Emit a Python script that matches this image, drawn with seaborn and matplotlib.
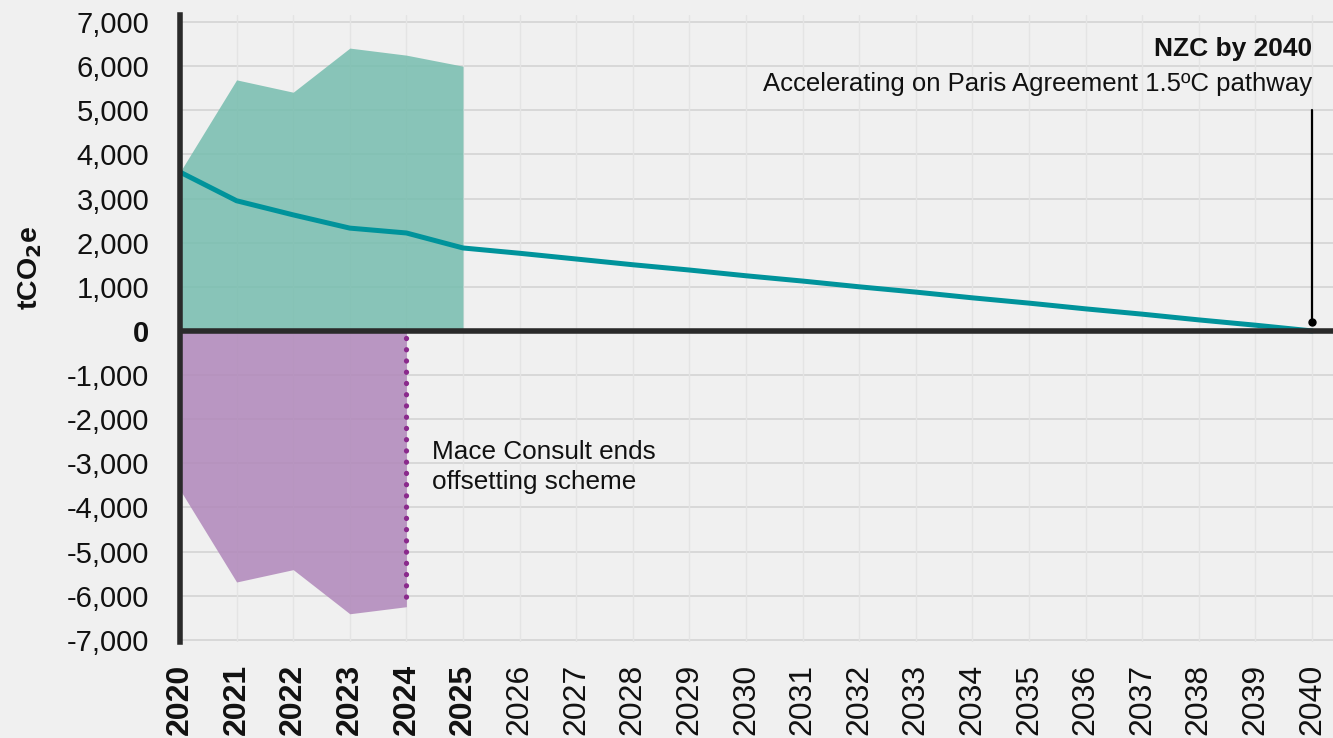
import numpy as np
import pandas as pd
import matplotlib
matplotlib.use("Agg")
import matplotlib.pyplot as plt
import seaborn as sns

years = list(range(2020, 2041))
pathway = [3600, 2950, 2630, 2330, 2220, 1880, 1760, 1630, 1500, 1380, 1250,
           1130, 1000, 880, 750, 630, 500, 380, 250, 130, 0]
emis_years = [2020, 2021, 2022, 2023, 2024, 2025]
emissions_upper = [3600, 5690, 5410, 6410, 6250, 6000]
offset_years = [2020, 2021, 2022, 2023, 2024]
offsets = [-3600, -5690, -5410, -6410, -6250]
offset_end_year = 2024
offset_end_value = -6250
yticks = list(range(-7000, 8000, 1000))
bold_years = [2020, 2021, 2022, 2023, 2024, 2025]

sns.set_theme(style="white")
plt.rcParams['font.family'] = ['Liberation Sans', 'DejaVu Sans']

bg = "#f0f0f0"
fig = plt.figure(figsize=(13.33, 7.38), dpi=100, facecolor=bg)
ax = fig.add_axes([180/1333, 1 - 642/738, 1 - 180/1333, (642-15)/738])
ax.set_facecolor(bg)

ax.set_xlim(2020, 2040.37)
ax.set_ylim(-7050, 7160)

# grid
for yv in yticks:
    ax.axhline(yv, color="#d6d6d6", lw=1.3, zorder=0)
for xv in years:
    ax.axvline(xv, color="#e4e4e4", lw=1.0, zorder=0)

ax.fill_between(emis_years, 0, emissions_upper, color="#76bdae", alpha=0.85, lw=0, zorder=1)
ax.fill_between(offset_years, 0, offsets, color="#b087ba", alpha=0.85, lw=0, zorder=1)

df = pd.DataFrame({"year": years, "value": pathway})
sns.lineplot(data=df, x="year", y="value", ax=ax, color="#00939b", lw=3.6, zorder=3)

ax.axhline(0, color="#2a2a2a", lw=4, zorder=4)

# dotted end of offsetting
ax.plot([offset_end_year, offset_end_year], [-160, offset_end_value], color="#8a2a8c",
        lw=3.8, linestyle=(0, (0.01, 2.12)), dash_capstyle="round", zorder=5)

# NZC marker
ax.plot([2040, 2040], [200, 5000], color="black", lw=1.6, zorder=5)
ax.plot([2040], [200], marker="o", color="black", ms=5, zorder=5)
ax.text(2040, 6380, "NZC by 2040", ha="right", va="center", fontsize=19, fontweight="bold", color="#111111")
ax.text(2040, 5600, "Accelerating on Paris Agreement 1.5ºC pathway", ha="right", va="center",
        fontsize=18.5, color="#111111")

ax.text(2024.46, -3080, "Mace Consult ends\noffsetting scheme", ha="left", va="center",
        fontsize=18.8, color="#111111", linespacing=1.32)

for s in ["top", "right", "bottom"]:
    ax.spines[s].set_visible(False)
ax.spines["left"].set_color("#2a2a2a")
ax.spines["left"].set_linewidth(4)
ax.spines["left"].set_zorder(6)

ax.set_yticks(yticks)
ax.set_yticklabels([f"{v:,}" for v in yticks])
ax.set_xticks(years)
ax.set_xticklabels([str(y) for y in years], rotation=90)
ax.tick_params(axis="y", length=0, pad=22, labelsize=21, labelcolor="#111111")
ax.tick_params(axis="x", length=0, pad=16, labelsize=23, labelcolor="#111111")
for lab in ax.get_yticklabels():
    if lab.get_text() == "0":
        lab.set_fontweight("bold")
for lab in ax.get_xticklabels():
    if int(lab.get_text()) in bold_years:
        lab.set_fontweight("bold")

ax.set_xlabel("")
ax.set_ylabel(r"tCO$_\mathbf{2}$e", fontsize=20.5, fontweight="bold", color="#111111")
ax.yaxis.set_label_coords(-0.118, 0.596)

fig.savefig("out.png", dpi=100, facecolor=bg)
